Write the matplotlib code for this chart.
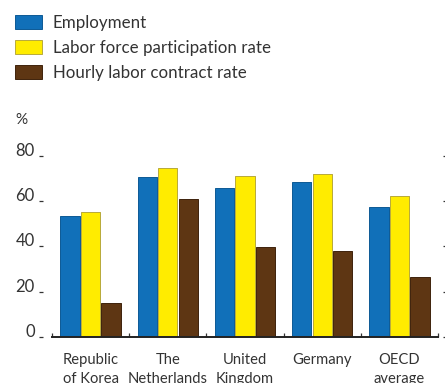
import matplotlib
matplotlib.use("Agg")
import matplotlib.pyplot as plt
import numpy as np
from matplotlib.patches import Patch

plt.rcParams['font.family'] = ['Lato', 'DejaVu Sans']

categories = ["Republic\nof Korea", "The\nNetherlands", "United\nKingdom", "Germany", "OECD\naverage"]
employment = [53.5, 70.7, 66.0, 68.3, 57.5]
participation = [55.3, 74.5, 71.3, 71.9, 62.4]
hourly = [15.0, 60.9, 39.6, 38.1, 26.5]
series_names = ["Employment", "Labor force participation rate", "Hourly labor contract rate"]
colors = ["#1170b9", "#ffec00", "#5e3613"]
edges = ["#0d5a95", "#b8aa3a", "#3f230c"]
yticks = [0, 20, 40, 60, 80]

W, H = 445, 383
PX = 0.72  # points per pixel at dpi 100
fig = plt.figure(figsize=(W / 100, H / 100), dpi=100)
ax = fig.add_axes([52 / W, 1 - 336.7 / H, 386 / W, 180.7 / H])

x = np.arange(len(categories)) + 0.5
bw = 0.25
step = 0.265
for i, (vals, c, e) in enumerate(zip([employment, participation, hourly], colors, edges)):
    pos = x + (i - 1) * step
    # light shadow on the right side
    ax.bar(pos + 0.012, vals, width=bw, color="#d0d0d0", zorder=1)
    ax.bar(pos, vals, width=bw, color=c, edgecolor=e, linewidth=0.7, zorder=2)

ax.set_xlim(0, 5)
ax.set_ylim(0, 80)

# left axis: ticks offset away from plot, no spine
ax.spines['left'].set_position(('outward', 9 * PX))
ax.spines['left'].set_visible(False)
ax.spines['top'].set_visible(False)
ax.spines['right'].set_position(('outward', 5 * PX))
ax.spines['right'].set_visible(False)
ax.spines['bottom'].set_linewidth(1.4)
ax.spines['bottom'].set_color("#222222")

ax.set_yticks(yticks)
ax.set_yticklabels([str(v) for v in yticks], fontsize=12, color="#333333")
ax.tick_params(axis='y', which='both', left=True, right=True, direction='out',
               length=5 * PX, width=0.9, color="#333333", pad=3)
for lab in ax.get_yticklabels():
    lab.set_verticalalignment("baseline")
ax.tick_params(axis='y', right=True, length=4 * PX)

ax.set_xticks(np.arange(len(categories) + 1))
ax.set_xticklabels([])
ax.tick_params(axis='x', direction='in', length=4 * PX, width=0.9, color="#333333")
for xi, name in zip(x, categories):
    ax.text(xi, -7.4, name, ha="center", va="top", fontsize=10.6, color="#333333",
            linespacing=1.45, transform=ax.transData, clip_on=False)

fig.text(15 / W, 1 - 120 / H, "%", fontsize=11, color="#333333", va="center", ha="left")

handles = [Patch(facecolor=c, edgecolor=e, linewidth=0.7) for c, e in zip(colors, edges)]
fig.legend(handles, series_names, loc="upper left", bbox_to_anchor=(15 / W, 1 - 15 / H),
           frameon=False, fontsize=12.2, handlelength=1.6, handleheight=0.85,
           handletextpad=0.62, labelspacing=0.52, borderpad=0, borderaxespad=0,
           labelcolor="#333333")

fig.savefig("out.png", dpi=100)
